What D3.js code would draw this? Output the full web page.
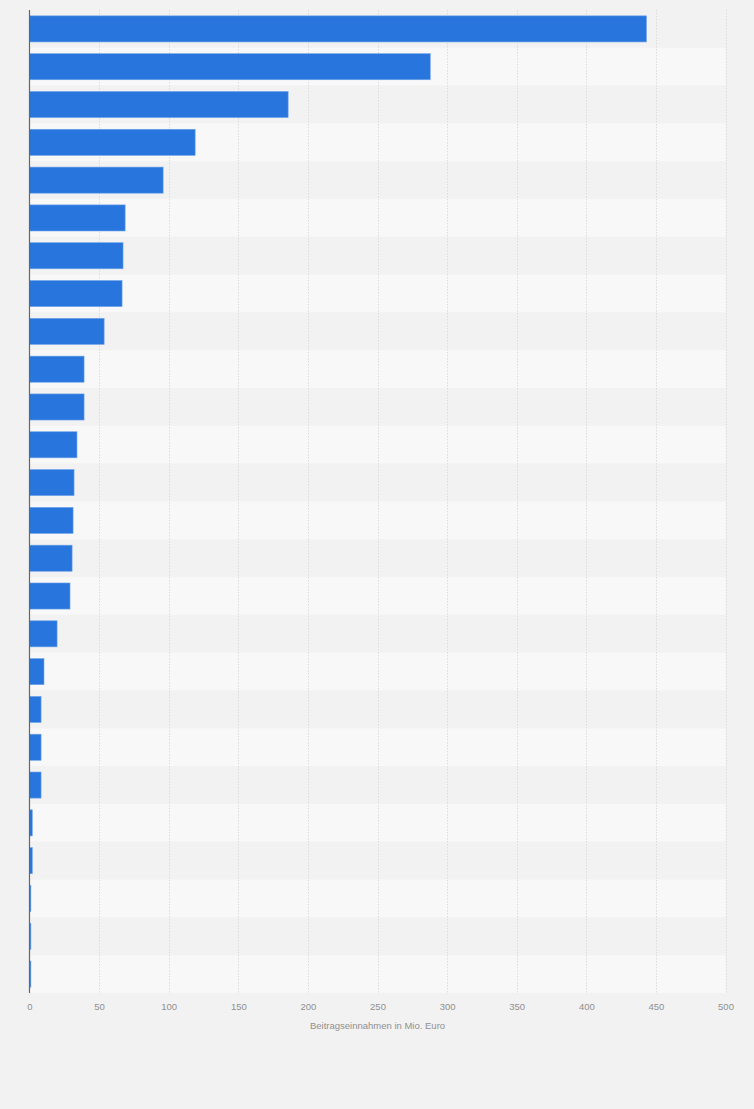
<!DOCTYPE html>
<html><head><meta charset="utf-8">
<script src="https://cdn.jsdelivr.net/npm/d3@7"></script>
<style>
html,body{margin:0;padding:0;background:#f2f2f2;}
svg{display:block;font-family:"Liberation Sans",Arial,sans-serif;}
</style></head>
<body><svg id="chart" width="754" height="1109"></svg>
<script>
const categories = ["1","2","3","4","5","6","7","8","9","10","11","12","13","14","15","16","17","18","19","20","21","22","23","24","25","26"];
const values = [443.2, 287.9, 185.8, 119.0, 96.0, 68.7, 67.2, 66.5, 53.6, 39.2, 39.2, 34.1, 32.0, 31.3, 30.6, 29.1, 19.8, 10.4, 8.3, 8.3, 8.3, 2.0, 2.0, 1.0, 1.0, 1.0];
const tickValues = [0, 50, 100, 150, 200, 250, 300, 350, 400, 450, 500];
const axisTitle = "Beitragseinnahmen in Mio. Euro";

const svg = d3.select("#chart");
const m = {left: 29.5, right: 725.5, top: 10, bottom: 993};

const x = d3.scaleLinear().domain([0, 500]).range([m.left, m.right]);
const y = d3.scaleBand().domain(categories).range([m.top, m.bottom]).paddingInner(0.31).paddingOuter(0.155);
const band = d3.scaleBand().domain(categories).range([m.top, m.bottom]);

// alternating stripes
svg.append("g").selectAll("rect").data(categories).join("rect")
  .attr("x", m.left).attr("width", m.right - m.left)
  .attr("y", d => band(d)).attr("height", band.bandwidth())
  .attr("fill", (d,i) => i % 2 === 0 ? "#f2f2f2" : "#f8f8f8");

// grid
svg.append("g").selectAll("line").data(tickValues.slice(1)).join("line")
  .attr("x1", d => Math.round(x(d)) + 0.5).attr("x2", d => Math.round(x(d)) + 0.5)
  .attr("y1", m.top).attr("y2", m.bottom)
  .attr("stroke", "#dcdcdc").attr("stroke-width", 1).attr("stroke-dasharray", "1.5,1.5");

// bars
svg.append("g").selectAll("rect").data(values).join("rect")
  .attr("x", m.left)
  .attr("y", (d,i) => y(categories[i]))
  .attr("height", y.bandwidth())
  .attr("width", d => x(d) - x(0))
  .attr("fill", "#2876dd")
  .attr("stroke", "#6fa3ea").attr("stroke-width", 0.6);

// left axis line
svg.append("line").attr("x1", m.left).attr("x2", m.left).attr("y1", m.top).attr("y2", m.bottom)
  .attr("stroke", "#666").attr("stroke-width", 1.2);

// x axis
const ax = d3.axisBottom(x).tickValues(tickValues).tickSize(0).tickPadding(0);
const g = svg.append("g").attr("transform", `translate(0,${m.bottom})`).call(ax);
g.select(".domain").remove();
g.selectAll("text").attr("y", 10).attr("font-size", 9.5).attr("fill", "#909090")
  .attr("font-family", "\"Liberation Sans\",Arial,sans-serif");

svg.append("text").attr("x", (m.left + m.right) / 2).attr("y", 1029)
  .attr("text-anchor", "middle").attr("font-size", 9.5).attr("fill", "#909090")
  .text(axisTitle);
</script></body></html>
